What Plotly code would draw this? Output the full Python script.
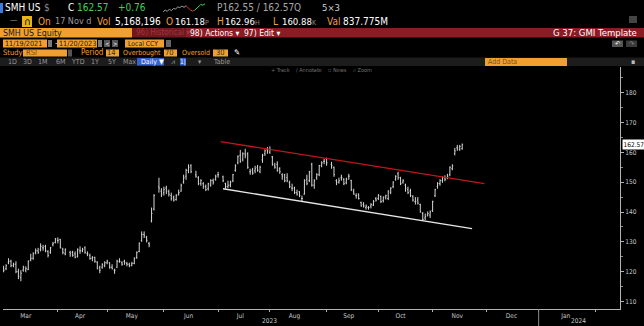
import pandas as pd
import plotly.graph_objects as go

# ---------------- data ----------------
HOLIDAYS = ["2023-04-07", "2023-05-29", "2023-06-19", "2023-07-04", "2023-09-04"]
dates = [d for d in pd.bdate_range("2023-03-02", "2023-11-17") if d.strftime("%Y-%m-%d") not in HOLIDAYS]

opens = [
    121.0, 121.0,
    123.0, 123.5, 122.0, 122.5, 120.0,
    118.0, 120.5, 120.5, 120.8, 124.0,
    124.5, 126.5, 127.0, 127.5, 128.0,
    128.5, 126.8, 126.5, 129.0, 129.8,
    130.5, 130.8, 127.5, 126.0,
    126.5, 126.5, 126.0, 125.0, 127.0,
    127.0, 128.0, 126.0, 125.5, 124.5,
    124.8, 123.2, 121.5, 121.5, 122.0,
    123.0, 123.0, 121.5, 120.5, 121.5,
    123.5, 123.0, 123.5, 122.8, 122.5,
    122.2, 122.8, 124.8, 126.8, 130.5,
    132.5, 131.5, 129.5, 137.0, 141.0,
    148.5, 147.0, 146.5, 148.0,
    146.8, 145.5, 145.0, 144.2, 146.0,
    147.0, 150.0, 152.0, 154.0, 155.5,
    152.5, 151.5, 149.5, 149.5,
    148.5, 147.8, 149.0, 150.5, 151.0,
    152.5, 151.8, 149.5, 148.5,
    149.0, 150.5, 154.0, 156.5, 159.0,
    157.5, 159.5, 159.5, 153.5, 154.0,
    153.8, 155.0, 153.5, 157.5, 159.5,
    161.0, 160.0, 158.5, 155.5, 156.0,
    154.5, 152.5, 152.5, 151.5, 149.8,
    148.0, 148.0, 146.5, 146.8, 144.5,
    146.0, 151.0, 150.5, 156.0, 149.0,
    151.5, 152.5, 155.5, 157.0, 157.8,
    156.0, 155.0, 150.5, 150.0,
    151.5, 151.0, 149.8, 152.0, 150.5,
    147.0, 145.5, 146.0, 143.2, 142.5,
    141.5, 141.5, 142.0, 142.3, 144.5,
    144.5, 145.2, 143.8, 145.0, 144.5,
    146.5, 148.5, 151.0, 152.8, 151.5,
    150.0, 149.0, 147.5, 147.0, 145.3,
    143.5, 144.0, 142.5, 139.5, 138.0,
    139.0, 139.0, 140.5, 145.5, 148.5,
    149.5, 150.5, 151.5, 151.5, 152.5,
    154.5, 159.5, 161.5, 161.0, 161.18,
]
highs = [
    122.0, 122.5,
    124.5, 124.0, 123.0, 123.5, 121.0,
    120.5, 122.0, 121.8, 123.8, 126.0,
    126.5, 127.8, 128.0, 129.5, 129.0,
    129.0, 127.2, 128.3, 130.0, 131.3,
    131.5, 131.0, 128.0, 127.8,
    127.0, 127.0, 126.8, 127.8, 128.5,
    128.0, 128.5, 126.8, 126.0, 125.2,
    125.0, 123.5, 122.0, 122.8, 123.5,
    124.0, 123.2, 122.5, 121.0, 124.0,
    124.5, 123.5, 124.0, 123.3, 123.0,
    123.3, 124.8, 126.8, 129.8, 133.5,
    133.5, 132.0, 130.0, 141.5, 146.0,
    151.5, 148.0, 148.5, 148.8,
    147.5, 146.5, 145.5, 146.0, 147.5,
    149.5, 152.5, 154.5, 156.0, 156.0,
    153.8, 152.0, 151.0, 150.0,
    149.2, 149.8, 151.0, 151.2, 152.5,
    153.5, 152.2, 149.8, 150.5,
    150.5, 152.8, 156.0, 159.0, 160.8,
    160.0, 161.2, 160.0, 154.5, 154.8,
    155.5, 155.8, 155.5, 159.5, 161.0,
    161.8, 162.0, 158.8, 156.5, 157.0,
    155.0, 153.0, 152.8, 153.0, 150.5,
    149.5, 148.5, 147.5, 147.0, 145.5,
    151.0, 152.5, 153.8, 156.5, 151.0,
    153.0, 155.8, 157.0, 157.8, 158.2,
    156.8, 155.2, 151.0, 151.5,
    152.5, 151.3, 151.5, 152.8, 150.8,
    147.8, 146.3, 146.2, 143.5, 143.3,
    142.5, 142.0, 143.0, 144.0, 145.0,
    146.0, 145.5, 145.2, 145.8, 147.3,
    148.3, 150.3, 152.3, 153.5, 151.8,
    151.0, 149.5, 148.5, 147.8, 145.6,
    145.0, 145.0, 142.8, 140.0, 139.5,
    140.2, 140.5, 143.8, 147.8, 150.0,
    151.0, 152.0, 152.3, 152.8, 155.3,
    156.0, 161.5, 162.5, 162.5, 162.96,
]
lows = [
    119.8, 120.5,
    122.5, 121.5, 121.5, 119.5, 117.5,
    116.8, 120.0, 119.8, 120.5, 123.5,
    124.0, 125.8, 126.0, 126.8, 127.0,
    126.5, 124.8, 126.0, 128.5, 129.5,
    129.5, 127.8, 125.8, 125.5,
    125.0, 125.0, 124.5, 124.8, 126.0,
    126.5, 126.0, 125.2, 124.0, 123.5,
    123.0, 120.8, 119.5, 121.0, 121.5,
    122.5, 121.0, 120.8, 119.3, 121.3,
    123.0, 122.0, 122.3, 121.8, 121.5,
    121.8, 122.5, 124.3, 126.5, 130.0,
    131.3, 129.8, 128.2, 136.5, 140.5,
    146.5, 145.0, 145.5, 146.0,
    145.2, 143.8, 143.5, 143.8, 145.5,
    146.8, 149.5, 150.8, 153.0, 153.0,
    151.5, 149.0, 148.8, 147.8,
    147.0, 147.2, 148.5, 149.2, 150.5,
    151.5, 150.0, 147.8, 148.0,
    148.3, 150.0, 153.5, 156.0, 156.5,
    157.0, 158.0, 154.5, 152.5, 152.5,
    153.0, 153.5, 153.0, 156.5, 158.8,
    159.5, 159.5, 155.5, 154.5, 153.5,
    152.8, 150.8, 150.0, 150.0, 148.0,
    147.0, 146.0, 145.5, 145.0, 143.5,
    145.8, 149.0, 150.0, 148.5, 147.8,
    150.8, 152.0, 155.0, 156.0, 155.5,
    154.5, 151.8, 149.0, 149.5,
    150.5, 149.0, 149.3, 150.8, 147.0,
    145.8, 144.5, 144.2, 141.8, 141.5,
    140.8, 140.8, 141.2, 142.0, 143.5,
    144.0, 143.0, 143.2, 144.2, 144.0,
    146.0, 148.0, 150.5, 150.8, 149.0,
    149.5, 146.8, 146.0, 145.0, 143.5,
    142.5, 142.5, 139.8, 137.0, 137.3,
    138.5, 138.0, 140.0, 145.0, 147.8,
    148.8, 149.8, 150.3, 151.0, 152.0,
    154.0, 159.0, 160.5, 160.5, 160.88,
]
closes = [
    120.5, 122.0,
    123.5, 122.0, 122.5, 120.0, 118.5,
    119.5, 121.5, 121.0, 123.5, 124.5,
    126.0, 127.0, 126.5, 128.5, 128.0,
    127.0, 125.5, 128.0, 129.5, 131.0,
    130.5, 128.0, 126.5, 127.5,
    126.0, 125.5, 124.8, 127.5, 127.0,
    127.5, 126.5, 126.0, 124.5, 124.8,
    123.5, 121.0, 120.5, 122.5, 123.0,
    123.5, 121.5, 121.0, 120.5, 123.5,
    123.5, 122.5, 123.0, 122.5, 122.0,
    122.8, 124.5, 126.5, 129.5, 132.5,
    132.0, 130.5, 129.0, 139.5, 145.5,
    148.0, 146.0, 147.5, 147.0,
    146.0, 144.5, 144.0, 145.5, 146.5,
    149.0, 151.5, 154.0, 155.0, 153.5,
    152.0, 149.5, 150.5, 148.5,
    147.5, 149.5, 150.5, 150.0, 152.0,
    152.5, 150.5, 148.5, 149.0,
    150.0, 152.5, 155.5, 158.5, 157.0,
    159.5, 159.0, 155.0, 153.5, 153.0,
    154.5, 154.0, 155.0, 159.0, 160.5,
    160.5, 161.0, 156.0, 155.0, 154.0,
    153.5, 152.0, 150.5, 150.5, 148.5,
    148.0, 146.5, 146.0, 145.5, 144.5,
    150.5, 149.5, 153.5, 149.0, 150.5,
    152.5, 155.5, 156.5, 157.0, 156.5,
    155.5, 152.5, 150.0, 150.5,
    151.5, 149.5, 151.0, 152.0, 147.5,
    146.0, 145.5, 144.5, 142.0, 142.0,
    142.0, 141.5, 142.5, 143.5, 144.0,
    145.5, 143.5, 145.0, 145.5, 147.0,
    148.0, 150.0, 152.0, 151.5, 149.5,
    150.5, 148.0, 146.5, 145.5, 144.0,
    143.5, 143.0, 140.0, 137.5, 138.5,
    139.5, 140.0, 143.5, 147.5, 149.5,
    150.5, 151.5, 151.0, 152.0, 155.0,
    155.5, 160.5, 161.5, 162.0, 162.57,
]

# drawn trend lines (date, price)
resist_x = ["2023-07-04", "2023-11-30"]
resist_y = [163.6, 149.5]
support_x = ["2023-07-05", "2023-11-23"]
support_y = [147.8, 134.4]

ytick_vals = [110, 120, 130, 140, 150, 160, 170, 180]
ytick_minor = [115, 125, 135, 145, 155, 165, 175, 185]
month_label_dates = ["2023-03-15", "2023-04-14", "2023-05-15", "2023-06-15", "2023-07-14",
                     "2023-08-15", "2023-09-14", "2023-10-13", "2023-11-15", "2023-12-15", "2024-01-16"]
month_labels = ["Mar", "Apr", "May", "Jun", "Jul", "Aug", "Sep", "Oct", "Nov", "Dec", "Jan"]
month_starts = ["2023-04-03", "2023-05-01", "2023-06-01", "2023-07-03", "2023-08-01", "2023-09-01",
                "2023-10-02", "2023-11-01", "2023-12-01", "2024-01-01", "2024-02-01"]
last_price = 162.57

spark_grey = [4.0, 5.5, 4.5, 6.0, 5.0, 6.5, 6.0, 7.5, 7.0, 8.0, 7.2, 8.2]
spark_red = [8.2, 6.5, 5.5, 4.8, 5.2]
spark_green = [5.2, 6.5, 8.0, 9.0, 8.6, 9.5]

# ---------------- figure ----------------
W, H = 644, 326
FONT = "Liberation Sans Narrow, DejaVu Sans Condensed, Liberation Sans, Arial"
ORANGE = "#f0a030"
GREEN = "#3fd25a"
BAR = "#d6d6d6"


def X(px):
    return px / W


def Y(py):
    return 1 - py / H


fig = go.Figure()
fig.add_trace(go.Ohlc(
    x=dates, open=opens, high=highs, low=lows, close=closes,
    increasing=dict(line=dict(color=BAR, width=1)),
    decreasing=dict(line=dict(color=BAR, width=1)),
    tickwidth=0.35, showlegend=False, hoverinfo="skip"))
fig.add_trace(go.Scatter(x=resist_x, y=resist_y, mode="lines",
                         line=dict(color="#c0161c", width=1.3), showlegend=False, hoverinfo="skip"))
fig.add_trace(go.Scatter(x=support_x, y=support_y, mode="lines",
                         line=dict(color="#e6e6e6", width=1.3), showlegend=False, hoverinfo="skip"))

# sparkline in header
n1 = len(spark_grey)
n2 = n1 + len(spark_red) - 1
fig.add_trace(go.Scatter(x=list(range(n1)), y=spark_grey, mode="lines", line=dict(color="#9a9a9a", width=1),
                         xaxis="x2", yaxis="y2", showlegend=False, hoverinfo="skip"))
fig.add_trace(go.Scatter(x=list(range(n1 - 1, n2)), y=spark_red, mode="lines", line=dict(color="#e03030", width=1),
                         xaxis="x2", yaxis="y2", showlegend=False, hoverinfo="skip"))
fig.add_trace(go.Scatter(x=list(range(n2 - 1, n2 - 1 + len(spark_green))), y=spark_green, mode="lines",
                         line=dict(color=GREEN, width=1),
                         xaxis="x2", yaxis="y2", showlegend=False, hoverinfo="skip"))

shapes = []
ann = []


def box(x0, y0, x1, y1, color):
    shapes.append(dict(type="rect", xref="paper", yref="paper", x0=X(x0), x1=X(x1), y0=Y(y1), y1=Y(y0),
                       fillcolor=color, line=dict(width=0), layer="above"))


def txt(x, y, s, color, size=9, anchor="left", family=FONT):
    ann.append(dict(xref="paper", yref="paper", x=X(x), y=Y(y), text=s, showarrow=False,
                    xanchor=anchor, yanchor="middle", borderpad=0,
                    font=dict(color=color, size=size, family=family)))


def small(s):
    return f"<span style='font-size:7px;color:#8a8a8a'>{s}</span>"


# Row 1
box(0, 3, 3, 13, "#3b7de0")
txt(4, 8, "SMH US", "#ffffff", 10)
txt(43, 8, "$", "#8a8a8a", 10)
txt(67, 8, "C", "#ffffff", 10)
txt(76, 8, "162.57", GREEN, 10)
txt(117, 8, "+0.76", GREEN, 10)
txt(216, 8, "P162.55 / 162.57Q", "#a8a8a8", 10)
txt(321, 8, "5×3", "#d0d0d0", 9.5)

# Row 2
txt(9, 21, "—", "#8a8a8a", 8)
box(22, 16, 32, 27, "#e8b418")
txt(27, 21.5, "∩", "#000000", 10, anchor="center")
txt(37, 21.5, "On", ORANGE, 10)
txt(54, 21.5, "17 Nov d", "#9a9a9a", 9)
txt(96, 21.5, "Vol", ORANGE, 10)
txt(114, 21.5, "5,168,196", "#ffffff", 10)
txt(165, 21.5, "O", ORANGE, 10)
txt(174, 21.5, "161.18" + small("P"), "#ffffff", 9.5)
txt(216, 21.5, "H", ORANGE, 10)
txt(224, 21.5, "162.96" + small("H"), "#ffffff", 9.5)
txt(272, 21.5, "L", ORANGE, 10)
txt(281, 21.5, "160.88" + small("K"), "#ffffff", 9.5)
txt(326, 21.5, "Val", ORANGE, 10)
txt(342, 21.5, "837.775M", "#ffffff", 10)
box(629, 16, 637, 23, "#444444")

# Row 3
box(0, 28, 132, 37.5, ORANGE)
box(132, 28, 186, 37.5, "#6c1a20")
box(186, 28, 644, 37.5, "#8a1c24")
txt(2, 32.8, "SMH US Equity", "#1a1a1a", 8.8)
txt(135, 32.8, "96) Historical ▾", "#a8303e", 8)
txt(189, 32.8, "98) Actions ▾", "#ffffff", 8.5)
txt(243, 32.8, "97) Edit ▾", "#ffffff", 8.5)
txt(638, 32.8, "G 37: GMI Template", "#ffffff", 9.5, anchor="right")

# Row 4
box(3, 39.5, 47, 47.5, ORANGE)
txt(4, 43.5, "11/19/2021", "#1a1a1a", 7.2)
box(48, 40, 52, 47, "#7a7a7a")
txt(53.5, 43.5, "-", "#dddddd", 8)
box(57, 39.5, 97, 47.5, ORANGE)
txt(58, 43.5, "11/20/2023", "#1a1a1a", 7.2)
box(98, 40, 102, 47, "#7a7a7a")
box(104, 40, 110, 47, "#555555")
txt(107, 43.5, "<", "#ffffff", 6, anchor="center")
box(112, 40, 118, 47, "#555555")
txt(115, 43.5, ">", "#ffffff", 6, anchor="center")
box(125, 39.5, 164, 47.5, ORANGE)
txt(127, 43.5, "Local CCY", "#1a1a1a", 6.8)
box(166, 40, 171, 47, "#666666")
box(612, 40.5, 623, 47, "#555555")
txt(617.5, 43.8, "↶", "#ffffff", 7, anchor="center")
box(626, 40.5, 637, 47, "#3a3a3a")
txt(631.5, 43.8, "↷", "#888888", 7, anchor="center")

# Row 5
txt(2, 53, "Study", ORANGE, 7.5)
box(23, 49.5, 67, 56.5, ORANGE)
txt(25, 53, "RSI", "#7a4a10", 7.5)
box(68, 49.5, 72, 56.5, "#555555")
txt(80, 53, "Period", ORANGE, 8)
box(106, 49.5, 119, 56.5, ORANGE)
txt(117, 53, "14", "#3a2a10", 7.5, anchor="right")
txt(122, 53, "Overbought", ORANGE, 7.0)
box(164, 49.5, 177, 56.5, ORANGE)
txt(175, 53, "70", "#3a2a10", 7.5, anchor="right")
txt(181, 53, "Oversold", ORANGE, 7.0)
box(213, 49.5, 228, 56.5, ORANGE)
txt(226, 53, "30", "#3a2a10", 7.5, anchor="right")
txt(233, 53, "✎", "#ffffff", 8)

# Row 6
box(0, 57.5, 644, 66, "#1c1c1c")
for lab, px in zip(["1D", "3D", "1M", "6M", "YTD", "1Y", "5Y", "Max"], [7, 22, 37, 55, 70, 90, 107, 122]):
    txt(px, 61.8, lab, "#9a9a9a", 7)
box(137, 58, 164, 65.5, "#3463c9")
txt(140, 61.8, "Daily ▼", "#ffffff", 7)
txt(170, 61.8, "⩘", "#9a9a9a", 7)
box(180, 58, 186, 65.5, "#3463c9")
txt(183, 61.8, "1|", "#ffffff", 6.5, anchor="center")
txt(197, 61.8, "▾", "#9a9a9a", 7)
txt(212, 61.8, "Table", "#9a9a9a", 7)
box(485, 58, 567, 66, ORANGE)
txt(487, 62, "Add Data", "#7a5218", 7)
txt(633, 61.8, "▪", "#bbbbbb", 7, anchor="center")

# Row 7 tool hints
for lab, px in zip(["+ Track", "∕ Annotate", "▫ News", "⌕ Zoom"], [270, 295, 327, 352]):
    txt(px, 70.5, lab, "#707070", 5.5)

# year labels on the x axis
ann.append(dict(xref="x", yref="paper", x="2023-08-01", y=Y(321), text="2023", showarrow=False,
                xanchor="center", yanchor="middle", font=dict(color="#c8c8c8", size=6.5, family=FONT)))
ann.append(dict(xref="x", yref="paper", x="2024-01-23", y=Y(321), text="2024", showarrow=False,
                xanchor="center", yanchor="middle", font=dict(color="#c8c8c8", size=6.5, family=FONT)))
# last price tag
ann.append(dict(xref="paper", yref="y", x=X(622), y=last_price, text=f"{last_price:.2f}", showarrow=False,
                xanchor="left", yanchor="middle", bgcolor="#ffffff", borderpad=0.5,
                font=dict(color="#000000", size=6.5, family=FONT)))
# year separator
shapes.append(dict(type="line", xref="x", yref="paper", x0="2024-01-01", x1="2024-01-01",
                   y0=Y(326), y1=Y(309), line=dict(color="#888888", width=1)))

fig.update_layout(
    width=W, height=H, autosize=False,
    margin=dict(l=0, r=0, t=0, b=0),
    paper_bgcolor="#000000", plot_bgcolor="#000000",
    showlegend=False,
    shapes=shapes, annotations=ann,
    xaxis=dict(
        domain=[X(3), X(620)], type="date",
        range=["2023-03-01 18:00", "2024-02-15"],
        rangebreaks=[dict(bounds=["sat", "mon"])],
        rangeslider=dict(visible=False),
        showgrid=False, zeroline=False,
        showline=True, linecolor="#b4b4b4", linewidth=1,
        tickmode="array", tickvals=month_label_dates, ticktext=month_labels, ticks="",
        tickfont=dict(size=6.5, color="#c8c8c8", family=FONT),
        minor=dict(tickmode="array", tickvals=month_starts, ticks="outside", ticklen=2,
                   tickcolor="#b4b4b4", showgrid=False),
        automargin=False, fixedrange=True,
    ),
    yaxis=dict(
        domain=[Y(309), Y(67)], range=[107.5, 188.6], side="right",
        showgrid=False, zeroline=False,
        showline=True, linecolor="#b4b4b4", linewidth=1,
        tickmode="array", tickvals=ytick_vals, ticks="outside", ticklen=3, tickcolor="#b4b4b4",
        tickfont=dict(size=6.5, color="#c8c8c8", family=FONT),
        minor=dict(tickmode="array", tickvals=ytick_minor, ticks="outside", ticklen=2,
                   tickcolor="#8a8a8a", showgrid=False),
        automargin=False, fixedrange=True,
    ),
    xaxis2=dict(domain=[X(163), X(205)], visible=False, anchor="y2"),
    yaxis2=dict(domain=[Y(13), Y(3)], visible=False, anchor="x2", range=[3.5, 10]),
)

fig.write_html("out.html")
